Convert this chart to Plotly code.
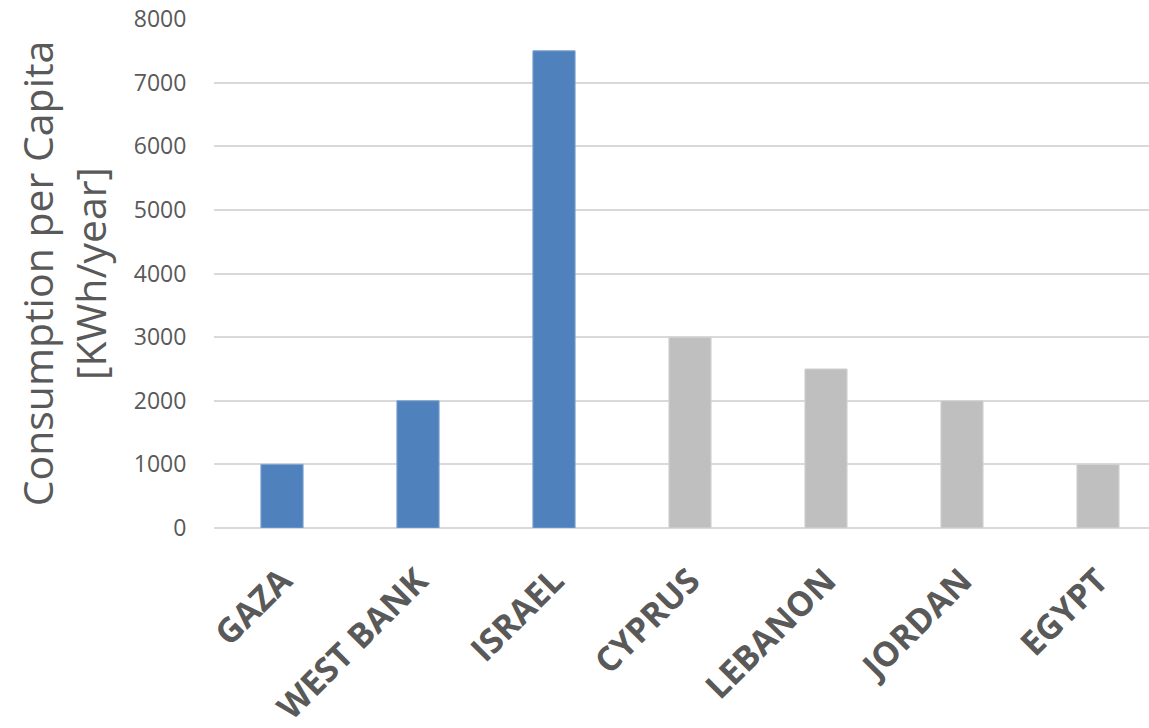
import plotly.graph_objects as go

countries = ["GAZA", "WEST BANK", "ISRAEL", "CYPRUS", "LEBANON", "JORDAN", "EGYPT"]
consumption = [1000, 2000, 7500, 3000, 2500, 2000, 1000]
bar_colors = ["#4F81BD", "#4F81BD", "#4F81BD", "#BFBFBF", "#BFBFBF", "#BFBFBF", "#BFBFBF"]
edge_colors = ["#7FA3D1", "#7FA3D1", "#7FA3D1", "#D4D4D4", "#D4D4D4", "#D4D4D4", "#D4D4D4"]
y_ticks = [0, 1000, 2000, 3000, 4000, 5000, 6000, 7000, 8000]

fig = go.Figure(
    go.Bar(
        x=countries,
        y=consumption,
        marker=dict(color=bar_colors, line=dict(color=edge_colors, width=1)),
    )
)

fig.update_layout(
    width=1149,
    height=728,
    margin=dict(l=214, r=0, t=19, b=200),
    plot_bgcolor="white",
    paper_bgcolor="white",
    bargap=0.69,
    showlegend=False,
    font=dict(family="Open Sans", color="#595959"),
)

fig.update_xaxes(
    range=[-0.5, 6.375],
    automargin=False,
    tickangle=-45,
    tickfont=dict(size=34, family="Open Sans", color="#595959", weight="bold"),
    ticklabelstandoff=25,
    showline=False,
    showgrid=False,
    ticks="",
)

fig.update_yaxes(
    range=[0, 8000],
    automargin=False,
    tickvals=y_ticks,
    tickfont=dict(size=23, color="#595959"),
    showgrid=True,
    gridcolor="#D9D9D9",
    gridwidth=2,
    zeroline=True,
    zerolinecolor="#D9D9D9",
    zerolinewidth=2,
    ticks="outside",
    ticklen=22,
    tickcolor="rgba(0,0,0,0)",
    title=dict(
        text="Consumption per Capita<br>[KWh/year]",
        font=dict(size=41, color="#595959"),
        standoff=14,
    ),
)

fig.write_html("out.html")
